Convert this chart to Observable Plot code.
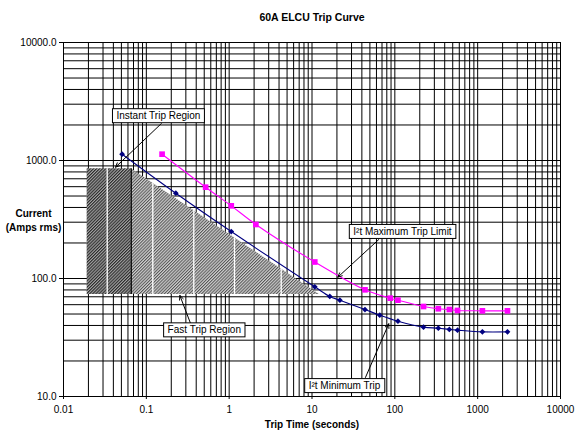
<!DOCTYPE html>
<html>
<head>
<meta charset="utf-8">
<script src="https://cdn.jsdelivr.net/npm/d3@7"></script>
<script src="https://cdn.jsdelivr.net/npm/@observablehq/plot@0.6"></script>
<style>
  html, body { margin: 0; padding: 0; background: white; }
  #chart svg { display: block; }
</style>
</head>
<body>
<div id="chart"></div>
<script>
// ---- Axis ticks ----
const xTickValues = [0.01, 0.1, 1, 10, 100, 1000, 10000];
const xTickLabels = ["0.01", "0.1", "1", "10", "100", "1000", "10000"];
const yTickValues = [10, 100, 1000, 10000];
const yTickLabels = ["10.0", "100.0", "1000.0", "10000.0"];

// ---- I²t Minimum Trip (navy) ----
const minTime    = [0.051, 0.227, 1.06, 10.8, 16.4, 21.7, 43.6, 65.8, 109, 222, 335, 455, 571, 1140, 2290];
const minCurrent = [1131, 528, 250, 85, 70.4, 65.5, 54.6, 48.9, 43.5, 38.7, 37.9, 37.0, 36.5, 35.3, 35.3];

// ---- I²t Maximum Trip Limit (magenta) ----
const maxTime    = [0.155, 0.52, 1.06, 2.1, 10.8, 43.6, 88, 109, 222, 335, 455, 571, 1140, 2290];
const maxCurrent = [1131, 594, 413, 287, 138, 80.2, 68.1, 65.5, 57.9, 55.4, 54.6, 53.6, 53.2, 53.2];

// ---- Regions ----
const instantRegion = [{x1: 0.0193, x2: 0.0657, y1: 73.2, y2: 851}];
const fastTime   = [0.0657, 12.3];
const fastTop    = [851, 73.2];
const fastBottom = [73.2, 73.2];
const dividerX   = [0.0337, 0.1197, 0.374, 1.16, 4.25];
const dividerTop = [851, 643, 377, 221, 120.5];
const dividerBottom = [73.2, 73.2, 73.2, 73.2, 73.2];

// ---- Annotations ----
const annotLabels = ["Instant Trip Region", "Fast Trip Region", "I²t Maximum Trip Limit", "I²t Minimum Trip"];
const annotX = [0.140, 0.501, 123.7, 24.7];
const annotY = [2383, 36.5, 249, 12.3];
const arrowFromX = [0.152, 0.341, 64, 44.2];
const arrowFromY = [2058, 41.8, 214, 14.5];
const arrowToX = [0.0425, 0.254, 20.5, 84.5];
const arrowToY = [878, 71.8, 102.6, 41.3];

// ---- Text ----
const title = "60A ELCU Trip Curve";
const xLabel = "Trip Time (seconds)";
const yLabel = "Current\n(Amps rms)";

// grid values (1..9 per decade)
const xGrid = [], yGrid = [];
for (let k = -2; k <= 3; k++) for (let m = 1; m <= 9; m++) xGrid.push(+(m * Math.pow(10, k)).toPrecision(6));
xGrid.push(10000);
for (let k = 1; k <= 3; k++) for (let m = 1; m <= 9; m++) yGrid.push(+(m * Math.pow(10, k)).toPrecision(6));
yGrid.push(10000);

const DARK = "#010101", LIGHT = "#020202";

const svg = Plot.plot({
  width: 578,
  height: 435,
  marginLeft: 63,
  marginRight: 18,
  marginTop: 42,
  marginBottom: 39,
  style: {fontFamily: "'Liberation Sans', Arial, sans-serif", fontSize: "10px", color: "black", background: "white"},
  x: {type: "log", domain: [0.01, 10000], axis: null},
  y: {type: "log", domain: [10, 10000], axis: null},
  marks: [
    Plot.ruleX(xGrid, {stroke: "black", strokeWidth: 1}),
    Plot.ruleY(yGrid, {stroke: "black", strokeWidth: 1}),
    Plot.rect(instantRegion, {x1: "x1", x2: "x2", y1: "y1", y2: "y2", fill: DARK}),
    Plot.areaY(fastTime, {x: fastTime, y1: fastBottom, y2: fastTop, fill: LIGHT}),
    Plot.ruleX(dividerX, {x: dividerX, y1: dividerBottom, y2: dividerTop, stroke: "white", strokeWidth: 1.3}),
    Plot.ruleX([instantRegion[0].x2], {y1: instantRegion[0].y1, y2: instantRegion[0].y2, stroke: "black", strokeWidth: 1.3}),
    Plot.line(minTime, {x: minTime, y: minCurrent, stroke: "#000080", strokeWidth: 1.1, curve: "catmull-rom"}),
    Plot.line(maxTime, {x: maxTime, y: maxCurrent, stroke: "#FF00FF", strokeWidth: 1.1, curve: "catmull-rom"}),
    Plot.dot(minTime, {x: minTime, y: minCurrent, symbol: "diamond2", r: 2.6, fill: "#000080", stroke: "none"}),
    Plot.dot(maxTime, {x: maxTime, y: maxCurrent, symbol: "square", r: 3.2, fill: "#FF00FF", stroke: "none"}),
    Plot.arrow(annotLabels, {x1: arrowFromX, y1: arrowFromY, x2: arrowToX, y2: arrowToY, stroke: "black", strokeWidth: 1, headLength: 7, headAngle: 50}),
    Plot.text(annotLabels, {x: annotX, y: annotY, text: annotLabels, fontSize: 10, fill: "black"}),
    Plot.axisX(xTickValues, {anchor: "bottom", tickFormat: d => xTickLabels[xTickValues.indexOf(d)], tickSize: 3, tickPadding: 6, fontSize: 10, label: null, stroke: "black"}),
    Plot.axisY(yTickValues, {anchor: "left", tickFormat: d => yTickLabels[yTickValues.indexOf(d)], tickSize: 4, tickPadding: 3, fontSize: 10, label: null, stroke: "black"}),
    Plot.text([title], {frameAnchor: "top", dy: -29, text: d => d, fontWeight: "bold", fontSize: 10.5}),
    Plot.text([xLabel], {frameAnchor: "bottom", dy: 31, text: d => d, fontWeight: "bold", fontSize: 10}),
    Plot.text([yLabel], {frameAnchor: "left", dx: -30, text: d => d, fontWeight: "bold", fontSize: 10, textAnchor: "middle", lineHeight: 1.4})
  ]
});

document.getElementById("chart").appendChild(svg);

// hatch patterns (diagonal lines via rotated stripes)
const ns = "http://www.w3.org/2000/svg";
const defs = document.createElementNS(ns, "defs");
function makePattern(id, bgColor, color, period, lineWidth) {
  const p = document.createElementNS(ns, "pattern");
  p.setAttribute("id", id);
  p.setAttribute("patternUnits", "userSpaceOnUse");
  p.setAttribute("width", period);
  p.setAttribute("height", period);
  p.setAttribute("patternTransform", "rotate(45)");
  const bg = document.createElementNS(ns, "rect");
  bg.setAttribute("width", period); bg.setAttribute("height", period); bg.setAttribute("fill", bgColor);
  p.appendChild(bg);
  const line = document.createElementNS(ns, "rect");
  line.setAttribute("x", 0); line.setAttribute("y", 0);
  line.setAttribute("width", lineWidth); line.setAttribute("height", period);
  line.setAttribute("fill", color);
  p.appendChild(line);
  return p;
}
defs.appendChild(makePattern("hatchDark", "#a4a4a4", "#2a2a2a", 2.2, 1.1));
defs.appendChild(makePattern("hatchLight", "#cfcfcf", "#555555", 2.2, 1.0));
svg.insertBefore(defs, svg.firstChild);
svg.querySelectorAll(`[fill="${DARK}"]`).forEach(el => el.setAttribute("fill", "url(#hatchDark)"));
svg.querySelectorAll(`[fill="${LIGHT}"]`).forEach(el => el.setAttribute("fill", "url(#hatchLight)"));

// boxes behind annotation labels
svg.querySelectorAll("text").forEach(t => {
  if (annotLabels.includes(t.textContent)) {
    const b = t.getBBox();
    const r = document.createElementNS(ns, "rect");
    r.setAttribute("x", b.x - 4);
    r.setAttribute("y", b.y - 1.5);
    r.setAttribute("width", b.width + 8);
    r.setAttribute("height", b.height + 3);
    r.setAttribute("fill", "white");
    r.setAttribute("stroke", "black");
    r.setAttribute("stroke-width", 1);
    const tr = t.getAttribute("transform");
    if (tr) r.setAttribute("transform", tr);
    t.parentNode.insertBefore(r, t);
  }
});
</script>
</body>
</html>
